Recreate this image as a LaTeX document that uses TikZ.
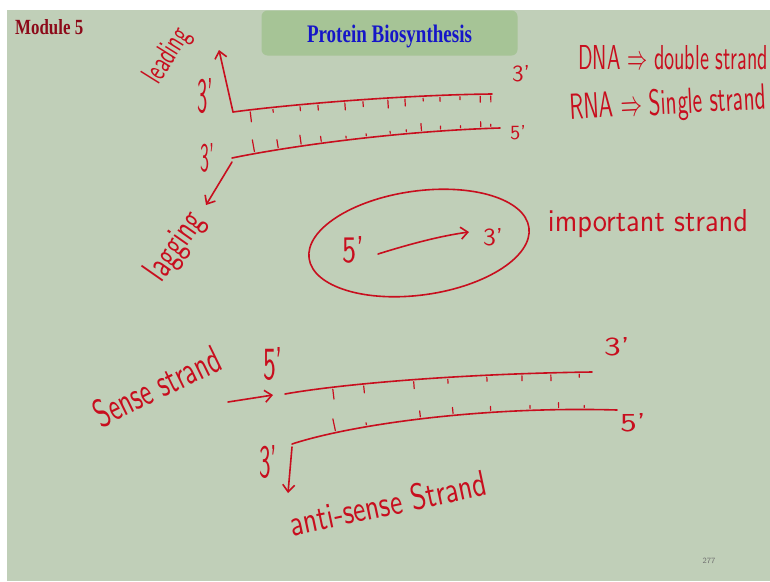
\documentclass[tikz,border=0pt]{standalone}
\usepackage{fontspec}
\usepackage{graphicx}
\newfontfamily\titlefont{Liberation Serif}
\usetikzlibrary{arrows.meta,shapes.geometric,decorations.markings}
\definecolor{bg}{RGB}{192,207,184}
\definecolor{titlebg}{RGB}{166,196,150}
\definecolor{ink}{RGB}{200,14,30}
\definecolor{titleblue}{RGB}{22,22,200}
\definecolor{modred}{RGB}{140,10,25}
\definecolor{pagegray}{RGB}{110,110,110}
\newcommand{\hb}[3]{\resizebox{#1}{#2}{\sffamily #3}}
\newcommand{\tkd}[1]{\draw[ink,line width=1.2pt,line cap=round] (0,-2pt) -- (0,-#1);}
\newcommand{\tku}[1]{\draw[ink,line width=1.2pt,line cap=round] (0,2pt) -- (0,#1);}
\begin{document}
\begin{tikzpicture}[x=1pt,y=-1pt,
  hand/.style={text=ink, inner sep=0pt},
  strand/.style={draw=ink, line width=1.6pt, line cap=round},
  penarrow/.style={draw=ink, line width=1.6pt, line cap=round, -{Straight Barb[length=7pt,width=12pt]}}
  ]
\useasboundingbox (0,0) rectangle (770,581);
\fill[white] (0,0) rectangle (770,581);
\fill[bg] (7,10) rectangle (770,581);
\clip (7,10) rectangle (770,581);

% header
\node[fill=titlebg, rounded corners=6pt, minimum width=256pt, minimum height=45pt, inner sep=0pt] (titlebox) at (389.5,33) {};
\node[inner sep=0pt, anchor=base] (title) at (389.5,42) {\color{titleblue}\resizebox{165pt}{17.5pt}{\titlefont\bfseries Protein Biosynthesis}};
\node[inner sep=0pt, anchor=base west] (module) at (15,34) {\color{modred}\resizebox{68pt}{15pt}{\titlefont\bfseries Module 5}};

% upper double strand
\coordinate (c1) at (233,112);
\coordinate (e1) at (492,94);
\coordinate (u1) at (219,50);
\coordinate (c2) at (232,158);
\coordinate (e2) at (500,128);
\coordinate (d2) at (206,205);
\draw[penarrow] (c1) -- (u1);
\draw[strand, postaction={decorate, decoration={markings,
   mark=at position .066 with {\tkd{12pt}},
   mark=at position .154 with {\tkd{5pt}},
   mark=at position .259 with {\tkd{6pt}},
   mark=at position .328 with {\tkd{7pt}},
   mark=at position .432 with {\tkd{9pt}},
   mark=at position .502 with {\tkd{7pt}},
   mark=at position .598 with {\tkd{10pt}},
   mark=at position .664 with {\tkd{9pt}},
   mark=at position .734 with {\tkd{5pt}},
   mark=at position .799 with {\tkd{6pt}},
   mark=at position .876 with {\tkd{5pt}},
   mark=at position .954 with {\tkd{8pt}},
   mark=at position .995 with {\tkd{8pt}}}}]
   (c1) .. controls (285,105) and (400,95) .. (e1);
\draw[strand, postaction={decorate, decoration={markings,
   mark=at position .086 with {\tku{14pt}},
   mark=at position .175 with {\tku{10pt}},
   mark=at position .261 with {\tku{11pt}},
   mark=at position .336 with {\tku{7pt}},
   mark=at position .429 with {\tku{4pt}},
   mark=at position .504 with {\tku{4pt}},
   mark=at position .593 with {\tku{4pt}},
   mark=at position .653 with {\tku{4pt}},
   mark=at position .709 with {\tku{9pt}},
   mark=at position .780 with {\tku{5pt}},
   mark=at position .854 with {\tku{4pt}},
   mark=at position .929 with {\tku{7pt}},
   mark=at position .966 with {\tku{4pt}}}}]
   (c2) .. controls (290,146) and (400,131) .. (e2);
\draw[penarrow] ([yshift=-4pt]c2) -- (d2);

\node[hand, rotate=58] (leading) at (168,56) {\hb{60pt}{22pt}{leading}};
\node[hand] (t3a) at (205,96) {\hb{16pt}{34pt}{3'}};
\node[hand] (t3b) at (521,74) {\hb{18pt}{16pt}{3'}};
\node[hand] (t5b) at (518,133) {\hb{16pt}{14pt}{5'}};
\node[hand] (t3c) at (207,158) {\hb{14pt}{28pt}{3'}};
\node[hand, rotate=55] (lagging) at (176,247) {\hb{76pt}{26pt}{lagging}};

\node[hand, anchor=west] (dna) at (578,58) {\hb{190pt}{24pt}{DNA $\Rightarrow$ double strand}};
\node[hand, anchor=west, rotate=3] (rna) at (570,110) {\hb{196pt}{26pt}{RNA $\Rightarrow$ Single strand}};

% oval
\node[draw=ink, line width=1.6pt, ellipse, rotate=8, minimum width=222pt, minimum height=104pt, inner sep=0pt] (oval) at (419,243) {};
\node[hand] (o5) at (353,250) {\hb{22pt}{26pt}{5'}};
\node[hand] (o3) at (493,237) {\hb{20pt}{17pt}{3'}};
\coordinate (oa) at (378,254);
\coordinate (ob) at (469,232);
\draw[penarrow] (oa) .. controls (410,244) and (440,236) .. (ob);
\node[hand] (imp) at (648,224) {\hb{200pt}{22pt}{important strand}};

% lower double strand
\node[hand, rotate=26] (sense) at (157,386) {\hb{136pt}{28pt}{Sense strand}};
\coordinate (sa) at (228,402);
\coordinate (sb) at (273,395);
\draw[penarrow] (sa) -- (sb);
\node[hand] (s5) at (273,364) {\hb{20pt}{32pt}{5'}};
\coordinate (s1) at (285,394);
\coordinate (s1e) at (592,372);
\coordinate (s2) at (292,444);
\coordinate (s2e) at (617,410);
\draw[strand, postaction={decorate, decoration={markings,
   mark=at position .156 with {\tkd{12pt}},
   mark=at position .257 with {\tkd{9pt}},
   mark=at position .420 with {\tkd{9pt}},
   mark=at position .531 with {\tkd{6pt}},
   mark=at position .658 with {\tkd{6pt}},
   mark=at position .772 with {\tkd{7pt}},
   mark=at position .866 with {\tkd{8pt}},
   mark=at position .958 with {\tkd{5pt}}}}]
   (s1) .. controls (335,385) and (450,374) .. (s1e);
\draw[strand, postaction={decorate, decoration={markings,
   mark=at position .138 with {\tku{14pt}},
   mark=at position .234 with {\tku{4pt}},
   mark=at position .400 with {\tku{8pt}},
   mark=at position .500 with {\tku{8pt}},
   mark=at position .615 with {\tku{6pt}},
   mark=at position .735 with {\tku{5pt}},
   mark=at position .822 with {\tku{7pt}},
   mark=at position .900 with {\tku{4pt}}}}]
   (s2) .. controls (350,425) and (480,406) .. (s2e);
\node[hand] (s3r) at (617,347) {\hb{26pt}{18pt}{3'}};
\node[hand] (s5r) at (633,423) {\hb{26pt}{18pt}{5'}};
\node[hand] (s3l) at (268,462) {\hb{18pt}{32pt}{3'}};
\coordinate (sd) at (288,493);
\draw[penarrow] ([yshift=-3pt]s2) -- (sd);
\node[hand, rotate=12] (anti) at (388,503) {\hb{200pt}{26pt}{anti-sense Strand}};

\node[inner sep=0pt, text=pagegray] (page) at (709,561) {\sffamily\fontsize{8}{8}\selectfont 277};
\end{tikzpicture}
\end{document}
